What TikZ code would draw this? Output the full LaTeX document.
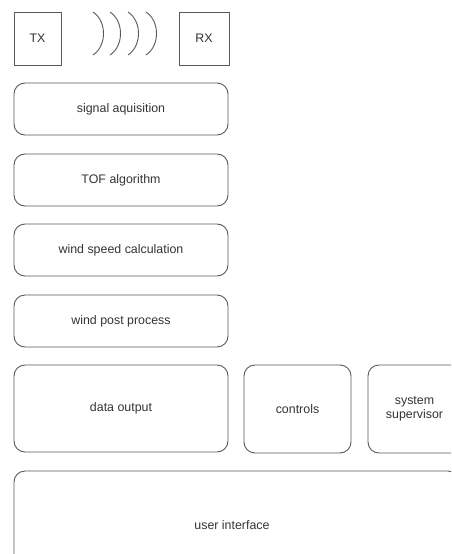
\documentclass[tikz,border=0pt]{standalone}
\usepackage{fontspec}
\setmainfont{Liberation Sans}
\begin{document}
\begin{tikzpicture}[x=1pt,y=-1pt,
  line/.style={draw=black!65, line width=0.9pt},
  blk/.style={line, rounded corners=11pt},
  sq/.style={line},
  lbl/.style={text=black!80, font=\fontsize{12.4}{14.5}\selectfont, align=center}]
\useasboundingbox (0,0) rectangle (451,554);
\clip (0,0) rectangle (451,554);
% transmitter / receiver
\draw[sq] (14,12) rectangle (61,65);
\node[lbl] (tx) at (37.5,38.5) {TX};
\draw[sq] (179,12) rectangle (229,65);
\node[lbl] (rx) at (204,38.5) {RX};
% ultrasonic wave fronts
\foreach \x in {93,110,128,146}
  \draw[line] (\x,12) .. controls (\x+14,21) and (\x+14,46) .. (\x,55);
% processing chain
\draw[blk] (14,83) rectangle (228,135);
\node[lbl] (sig) at (121,109) {signal aquisition};
\draw[blk] (14,154) rectangle (228,206);
\node[lbl] (tof) at (121,180) {TOF algorithm};
\draw[blk] (14,224) rectangle (228,276);
\node[lbl] (wsc) at (121,250) {wind speed calculation};
\draw[blk] (14,295) rectangle (228,347);
\node[lbl] (wpp) at (121,321) {wind post process};
% outputs
\draw[blk] (14,365) rectangle (228,452);
\node[lbl] (dout) at (121,408.5) {data output};
\draw[blk] (244,365) rectangle (351,453);
\node[lbl] (ctrl) at (297.5,409) {controls};
\draw[blk] (368,365) rectangle (464,453);
\node[lbl] (sup) at (414.5,409) {system\\supervisor};
% user interface
\draw[blk] (14,471) rectangle (459,580);
\node[lbl] (ui) at (232,525) {user interface};
\end{tikzpicture}
\end{document}
